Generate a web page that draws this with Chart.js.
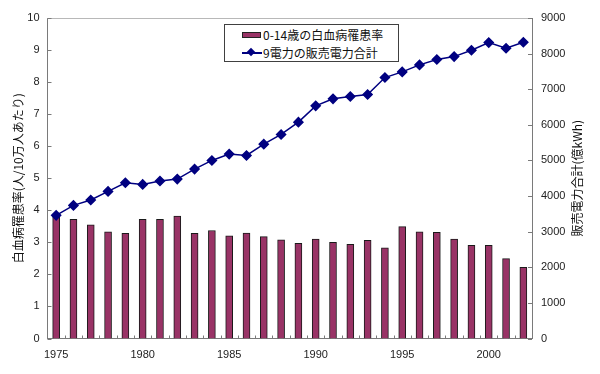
<!DOCTYPE html>
<html>
<head>
<meta charset="utf-8">
<script src="https://cdn.jsdelivr.net/npm/chart.js@4/dist/chart.umd.min.js"></script>
<style>
  html, body { margin:0; padding:0; background:#fff; }
  #wrap { position:relative; width:600px; height:374px; }
  #c { position:absolute; left:0; top:0; }
  #legend { position:absolute; left:224px; top:24px; width:173px; height:36px; border:1px solid #404040; background:#fff;
            font-family:"Noto Sans CJK JP", sans-serif; font-size:12px; color:#111; }
  .row { position:absolute; left:0; width:173px; height:18px; }
  .txt { position:absolute; left:38px; top:0; line-height:18px; white-space:nowrap; }
  .sw { position:absolute; left:17px; top:6px; width:17px; height:4px; background:#993366; border:1px solid #222; }
  .ln { position:absolute; left:17px; top:8px; width:20px; height:2px; background:#000080; }
  .dm { position:absolute; left:23px; top:5px; width:6px; height:6px; background:#000080; transform:rotate(45deg); }
</style>
</head>
<body>
<div id="wrap">
  <canvas id="c" width="600" height="374"></canvas>
  <div id="legend">
    <div class="row" style="top:1px"><div class="sw"></div><div class="txt" id="l1"></div></div>
    <div class="row" style="top:19px"><div class="ln"></div><div class="dm"></div><div class="txt" id="l2"></div></div>
  </div>
</div>
<script>
const years = [1975,1976,1977,1978,1979,1980,1981,1982,1983,1984,1985,1986,1987,1988,1989,1990,1991,1992,1993,1994,1995,1996,1997,1998,1999,2000,2001,2002];
const leukemiaRate = [3.82,3.72,3.55,3.33,3.28,3.72,3.72,3.82,3.28,3.37,3.20,3.29,3.18,3.08,2.97,3.10,3.00,2.94,3.06,2.83,3.49,3.33,3.31,3.10,2.91,2.91,2.49,2.22];
const powerSales = [3458,3738,3889,4131,4374,4327,4421,4477,4757,5000,5178,5140,5458,5729,6075,6533,6730,6795,6851,7328,7487,7683,7833,7916,8095,8309,8151,8319];
const seriesNames = ["0-14歳の白血病罹患率", "9電力の販売電力合計"];
const leftTitle = "白血病罹患率(人/10万人あたり)";
const rightTitle = "販売電力合計(億kWh)";

document.getElementById('l1').textContent = seriesNames[0];
document.getElementById('l2').textContent = seriesNames[1];

const numFont = { family: '"Liberation Sans", Arial, sans-serif', size: 11 };
const cjkFamily = '"Noto Sans CJK JP", sans-serif';
const axisColor = '#7a7a7a';

const decor = {
  id: 'decor',
  afterDraw(chart) {
    const { ctx, chartArea: a, scales } = chart;
    ctx.save();
    ctx.strokeStyle = '#b8b8b8';
    ctx.lineWidth = 1;
    ctx.beginPath();
    ctx.moveTo(a.left, a.top + 0.5);
    ctx.lineTo(a.right, a.top + 0.5);
    ctx.stroke();
    ctx.strokeStyle = axisColor;
    ctx.beginPath();
    scales.y.ticks.forEach(t => {
      const y = Math.round(scales.y.getPixelForValue(t.value)) + 0.5;
      ctx.moveTo(a.left, y); ctx.lineTo(a.left + 4, y);
    });
    scales.y2.ticks.forEach(t => {
      const y = Math.round(scales.y2.getPixelForValue(t.value)) + 0.5;
      ctx.moveTo(a.right - 4, y); ctx.lineTo(a.right, y);
    });
    const n = years.length;
    for (let i = 1; i < n; i++) {
      const x = Math.round((scales.x.getPixelForValue(i - 1) + scales.x.getPixelForValue(i)) / 2) + 0.5;
      ctx.moveTo(x, a.bottom - 3); ctx.lineTo(x, a.bottom);
    }
    ctx.stroke();
    ctx.fillStyle = '#111';
    ctx.font = '12px ' + cjkFamily;
    ctx.textAlign = 'center';
    ctx.textBaseline = 'middle';
    const cy = (a.top + a.bottom) / 2;
    ctx.save();
    ctx.translate(18, cy);
    ctx.rotate(-Math.PI / 2);
    ctx.fillText(leftTitle, 0, 0);
    ctx.restore();
    ctx.save();
    ctx.translate(577, cy);
    ctx.rotate(-Math.PI / 2);
    ctx.fillText(rightTitle, 0, 0);
    ctx.restore();
    ctx.restore();
  }
};

new Chart(document.getElementById('c'), {
  data: {
    labels: years.map(String),
    datasets: [
      {
        type: 'line',
        label: seriesNames[1],
        data: powerSales,
        yAxisID: 'y2',
        borderColor: '#000080',
        backgroundColor: '#000080',
        borderWidth: 1.5,
        pointStyle: 'rectRot',
        pointRadius: 4.5,
        pointBackgroundColor: '#000080',
        pointBorderColor: '#000080',
        tension: 0,
        order: 0
      },
      {
        type: 'bar',
        label: seriesNames[0],
        data: leukemiaRate,
        yAxisID: 'y',
        backgroundColor: '#993366',
        borderColor: '#1a1a1a',
        borderWidth: 1,
        barThickness: 7,
        order: 1
      }
    ]
  },
  options: {
    responsive: false,
    devicePixelRatio: 1,
    animation: false,
    layout: { padding: { top: 18, left: 0, right: 0, bottom: 0 } },
    plugins: { legend: { display: false }, tooltip: { enabled: false } },
    scales: {
      x: {
        type: 'category',
        offset: true,
        grid: { display: false, drawTicks: false },
        border: { color: axisColor },
        ticks: {
          autoSkip: false, maxRotation: 0, minRotation: 0, padding: 10,
          color: '#222', font: numFont,
          callback: function(v, i) { const y = years[i]; return (y % 5 === 0) ? String(y) : ''; }
        },
        afterFit: s => { s.height = 35.5; }
      },
      y: {
        position: 'left', min: 0, max: 10,
        grid: { display: false, drawTicks: false },
        border: { color: axisColor },
        ticks: { stepSize: 1, padding: 8, color: '#222', font: numFont, callback: v => String(v) },
        afterFit: s => { s.width = 47.5; }
      },
      y2: {
        position: 'right', min: 0, max: 9000,
        grid: { display: false, drawTicks: false },
        border: { color: axisColor },
        ticks: { stepSize: 1000, padding: 9, color: '#222', font: numFont, callback: v => String(v) },
        afterFit: s => { s.width = 68; }
      }
    }
  },
  plugins: [decor]
});
</script>
</body>
</html>
